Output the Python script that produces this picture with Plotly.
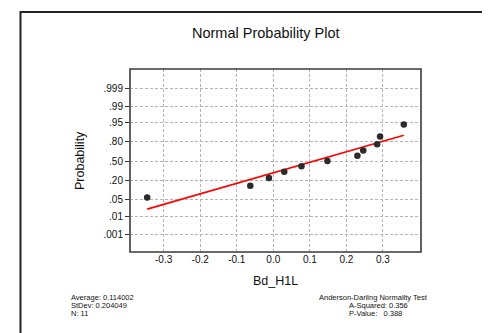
import math
import plotly.graph_objects as go

# ---- data ----
data_x = [-0.345, -0.063, -0.012, 0.030, 0.077, 0.148, 0.230, 0.246, 0.284, 0.292, 0.357]
data_prob = [0.061, 0.149, 0.237, 0.325, 0.412, 0.500, 0.588, 0.675, 0.763, 0.851, 0.939]
fit_x = [-0.345, 0.357]
fit_prob = [0.021, 0.864]
prob_ticks = [0.001, 0.01, 0.05, 0.20, 0.50, 0.80, 0.95, 0.99, 0.999]
prob_tick_labels = [".001", ".01", ".05", ".20", ".50", ".80", ".95", ".99", ".999"]
x_ticks = [-0.3, -0.2, -0.1, 0.0, 0.1, 0.2, 0.3]
x_tick_labels = ["-0.3", "-0.2", "-0.1", "0.0", "0.1", "0.2", "0.3"]
stats_left = ["Average: 0.114002", "StDev: 0.204049", "N: 11"]
stats_right = ["Anderson-Darling Normality Test", "A-Squared: 0.356", "P-Value:   0.388"]


def norm_ppf(p):
    lo, hi = -10.0, 10.0
    for _ in range(100):
        mid = 0.5 * (lo + hi)
        if 0.5 * (1 + math.erf(mid / math.sqrt(2))) < p:
            lo = mid
        else:
            hi = mid
    return 0.5 * (lo + hi)


FONT = "Liberation Sans, Arial, sans-serif"
W, H = 490, 333
L, R, T, B = 122, 413, 61, 244  # plot area in pixels


def px(x):
    return (x - L) / (R - L)


def py(y):
    return (B - y) / (B - T)


fig = go.Figure()
fig.add_trace(go.Scatter(
    x=fit_x, y=[norm_ppf(p) for p in fit_prob], mode="lines",
    line=dict(color="#ff0000", width=1.6), hoverinfo="skip", showlegend=False))
fig.add_trace(go.Scatter(
    x=data_x, y=[norm_ppf(p) for p in data_prob], mode="markers",
    marker=dict(color="#2b2b2b", size=6.5), showlegend=False))

grid = dict(showgrid=True, gridcolor="#b4b4b4", griddash="3px,2px", gridwidth=1, zeroline=False)
fig.update_xaxes(range=[-0.392, 0.404], tickvals=x_ticks, ticktext=x_tick_labels,
                 ticks="", tickfont=dict(size=10, color="#111", family=FONT),
                 showline=False, **grid)
fig.update_yaxes(range=[-3.85, 3.90], tickvals=[norm_ppf(p) for p in prob_ticks],
                 ticktext=prob_tick_labels, ticks="outside", ticklen=4, tickcolor="#333",
                 tickfont=dict(size=10, color="#111", family=FONT),
                 showline=False, **grid)

shapes = [
    # plot frame
    dict(type="rect", xref="paper", yref="paper", x0=0, x1=1, y0=0, y1=1,
         line=dict(color="#3a3a3a", width=1.6), layer="above"),
    # outer border
    dict(type="rect", xref="paper", yref="paper", x0=px(12.5), x1=px(500), y0=py(331), y1=py(4),
         line=dict(color="#222", width=2)),
]

ann = [
    dict(text="Normal Probability Plot", x=px(257), y=py(25), font=dict(size=14.5)),
    dict(text="Probability", x=px(72), y=py(153), font=dict(size=12.5), textangle=-90),
    dict(text="Bd_H1L", x=px(267), y=py(273), font=dict(size=12.5)),
]
for i, t in enumerate(stats_left):
    ann.append(dict(text=t, x=px(61), y=py(289 + 8 * i), xanchor="left", font=dict(size=7.5)))
ann.append(dict(text=stats_right[0], x=px(309), y=py(289), xanchor="left", font=dict(size=7.5)))
for i, t in enumerate(stats_right[1:]):
    ann.append(dict(text=t, x=px(339), y=py(297 + 8 * i), xanchor="left", font=dict(size=7.5)))

annotations = []
for a in ann:
    d = dict(xref="paper", yref="paper", showarrow=False, xanchor=a.get("xanchor", "center"),
             yanchor="middle", text=a["text"], x=a["x"], y=a["y"],
             font=dict(family=FONT, color="#111", size=a["font"]["size"]))
    if "textangle" in a:
        d["textangle"] = a["textangle"]
    annotations.append(d)

fig.update_layout(
    width=W, height=H, margin=dict(l=L, r=W - R, t=T, b=H - B),
    paper_bgcolor="white", plot_bgcolor="white",
    shapes=shapes, annotations=annotations, font=dict(family=FONT),
)
fig.write_html("out.html")
